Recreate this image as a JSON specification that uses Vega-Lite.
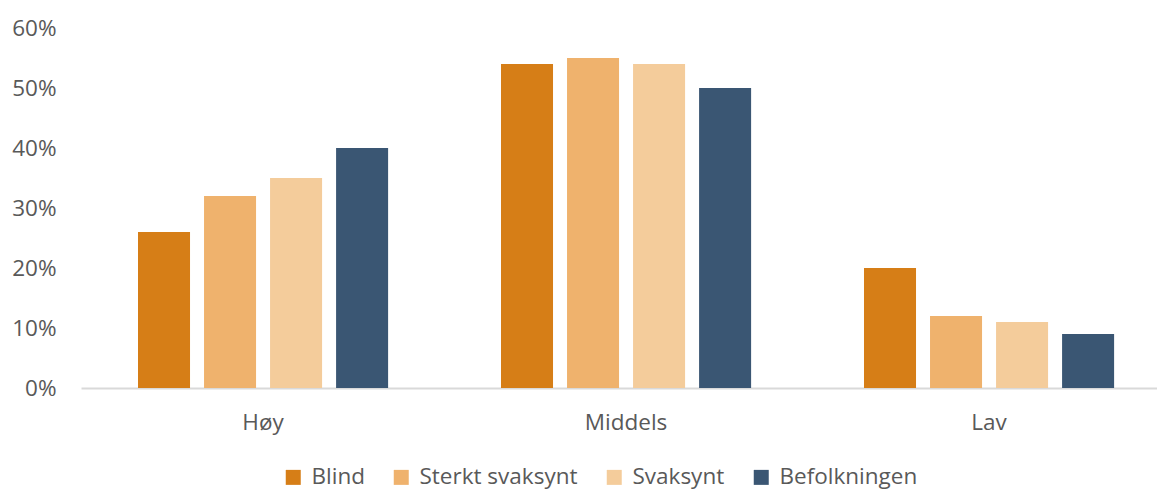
{
  "$schema": "https://vega.github.io/schema/vega-lite/v6.json",
  "width": 1076,
  "height": 360,
  "autosize": {"type": "none"},
  "padding": {"left": 81, "top": 28, "right": 0, "bottom": 103},
  "background": "white",
  "data": {
    "values": [
      {"nivå": "Høy", "gruppe": "Blind", "andel": 0.26},
      {"nivå": "Høy", "gruppe": "Sterkt svaksynt", "andel": 0.32},
      {"nivå": "Høy", "gruppe": "Svaksynt", "andel": 0.35},
      {"nivå": "Høy", "gruppe": "Befolkningen", "andel": 0.40},
      {"nivå": "Middels", "gruppe": "Blind", "andel": 0.54},
      {"nivå": "Middels", "gruppe": "Sterkt svaksynt", "andel": 0.55},
      {"nivå": "Middels", "gruppe": "Svaksynt", "andel": 0.54},
      {"nivå": "Middels", "gruppe": "Befolkningen", "andel": 0.50},
      {"nivå": "Lav", "gruppe": "Blind", "andel": 0.20},
      {"nivå": "Lav", "gruppe": "Sterkt svaksynt", "andel": 0.12},
      {"nivå": "Lav", "gruppe": "Svaksynt", "andel": 0.11},
      {"nivå": "Lav", "gruppe": "Befolkningen", "andel": 0.09}
    ]
  },
  "mark": {"type": "bar"},
  "encoding": {
    "x": {
      "field": "nivå",
      "type": "nominal",
      "sort": ["Høy", "Middels", "Lav"],
      "scale": {"paddingInner": 0.311, "paddingOuter": 0.1376, "align": 0.5706},
      "axis": {
        "title": null,
        "labelAngle": 0,
        "ticks": false,
        "domain": true,
        "domainColor": "#D9D9D9",
        "domainWidth": 2,
        "labelPadding": 23,
        "labelFont": "Open Sans",
        "labelFontSize": 22.5,
        "labelColor": "#595959"
      }
    },
    "xOffset": {
      "field": "gruppe",
      "type": "nominal",
      "sort": ["Blind", "Sterkt svaksynt", "Svaksynt", "Befolkningen"],
      "scale": {"paddingInner": 0.2121, "paddingOuter": 0}
    },
    "y": {
      "field": "andel",
      "type": "quantitative",
      "scale": {"domain": [0, 0.6], "nice": false},
      "axis": {
        "title": null,
        "values": [0, 0.1, 0.2, 0.3, 0.4, 0.5, 0.6],
        "format": ".0%",
        "grid": false,
        "domain": false,
        "ticks": false,
        "labelPadding": 25,
        "labelFont": "Open Sans",
        "labelFontSize": 22.5,
        "labelColor": "#595959"
      }
    },
    "color": {
      "field": "gruppe",
      "type": "nominal",
      "sort": ["Blind", "Sterkt svaksynt", "Svaksynt", "Befolkningen"],
      "scale": {
        "domain": ["Blind", "Sterkt svaksynt", "Svaksynt", "Befolkningen"],
        "range": ["#D67E17", "#EFB26D", "#F4CC9B", "#3A5673"]
      },
      "legend": {
        "title": null,
        "orient": "none",
        "direction": "horizontal",
        "legendX": 201,
        "legendY": 438,
        "padding": 0,
        "symbolType": "square",
        "symbolSize": 225,
        "symbolStrokeWidth": 0,
        "symbolOpacity": 1,
        "labelOffset": 7,
        "columnPadding": 25,
        "labelFont": "Open Sans",
        "labelFontSize": 22.5,
        "labelColor": "#595959",
        "labelLimit": 400
      }
    }
  },
  "config": {"view": {"stroke": null}}
}
